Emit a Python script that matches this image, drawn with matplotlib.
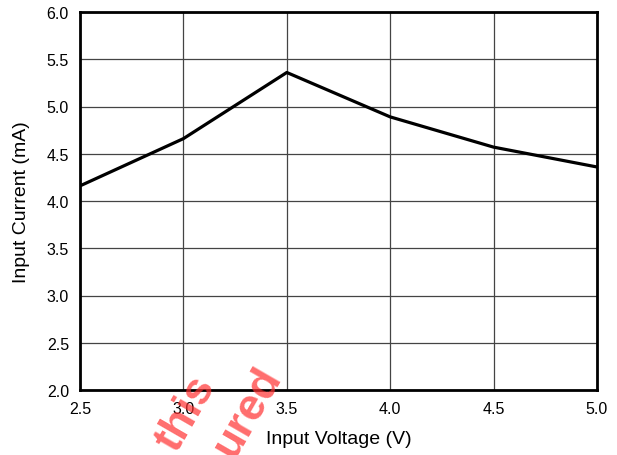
import matplotlib
matplotlib.use("Agg")
import matplotlib.pyplot as plt

plt.rcParams['font.family'] = ['Liberation Sans', 'DejaVu Sans']

voltage = [2.5, 3.0, 3.5, 4.0, 4.5, 5.0]
current = [4.16, 4.66, 5.36, 4.89, 4.57, 4.36]
xticks = [2.5, 3.0, 3.5, 4.0, 4.5, 5.0]
yticks = [2.0, 2.5, 3.0, 3.5, 4.0, 4.5, 5.0, 5.5, 6.0]

fig = plt.figure(figsize=(6.17, 4.56), dpi=100)
ax = fig.add_axes([80/617, 1-391/456, (597-80)/617, (391-13)/456])
ax.plot(voltage, current, color='black', lw=2.3, zorder=3)
ax.set_xlim(2.5, 5.0)
ax.set_ylim(2.0, 6.0)
ax.set_xticks(xticks)
ax.set_yticks(yticks)
ax.set_xticklabels([f"{v:.1f}" for v in xticks])
ax.set_yticklabels([f"{v:.1f}" for v in yticks])
ax.grid(True, color='#444444', lw=0.9)
ax.tick_params(length=0, labelsize=11.5, pad=8)
for s in ax.spines.values():
    s.set_linewidth(2)
    s.set_color('black')
ax.set_xlabel('Input Voltage (V)', fontsize=14, labelpad=10)
ax.set_ylabel('Input Current (mA)', fontsize=14, labelpad=12)

fig.text(186/617, 1-414/456, 'this', color='#ff3030', alpha=0.7, fontsize=32,
         fontweight='bold', rotation=60, ha='center', va='center', zorder=10)
fig.text(247/617, 1-412/456, 'ured', color='#ff3030', alpha=0.7, fontsize=32,
         fontweight='bold', rotation=60, ha='center', va='center', zorder=10)

fig.savefig('out.png', dpi=100)
